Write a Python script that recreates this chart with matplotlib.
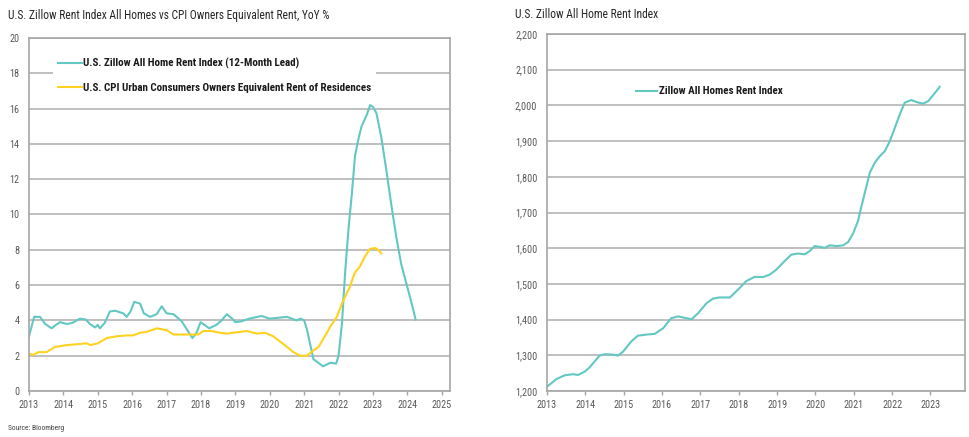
import matplotlib
matplotlib.use('Agg')
import matplotlib.pyplot as plt
from matplotlib.ticker import FuncFormatter

# YoY % (decimal years)
zillow_yoy_x = [2013.0, 2013.15, 2013.32, 2013.47, 2013.66, 2013.75, 2013.9, 2014.1, 2014.25,
                2014.48, 2014.65, 2014.77, 2014.92, 2015.0, 2015.06, 2015.2, 2015.35, 2015.5,
                2015.74, 2015.84, 2015.95, 2016.06, 2016.23, 2016.34, 2016.52, 2016.71, 2016.86,
                2017.0, 2017.2, 2017.44, 2017.75, 2017.87, 2017.99, 2018.1, 2018.24, 2018.45,
                2018.6, 2018.75, 2018.88, 2019.0, 2019.18, 2019.4, 2019.76, 2020.0, 2020.5,
                2020.78, 2020.9, 2021.0, 2021.08, 2021.27, 2021.55, 2021.76, 2021.93, 2022.0,
                2022.1, 2022.19, 2022.29, 2022.39, 2022.48, 2022.58, 2022.67, 2022.82, 2022.92,
                2023.0, 2023.1, 2023.24, 2023.39, 2023.53, 2023.68, 2023.82, 2023.97, 2024.12,
                2024.24]
zillow_yoy = [3.1, 4.2, 4.2, 3.8, 3.55, 3.7, 3.9, 3.8, 3.85,
              4.1, 4.05, 3.8, 3.6, 3.75, 3.55, 3.85, 4.5, 4.55,
              4.4, 4.2, 4.5, 5.05, 4.95, 4.4, 4.2, 4.35, 4.8,
              4.4, 4.35, 3.95, 3.0, 3.3, 3.9, 3.75, 3.55, 3.75,
              4.0, 4.35, 4.15, 3.9, 3.95, 4.1, 4.25, 4.1, 4.2,
              4.0, 4.1, 4.0, 3.5, 1.8, 1.4, 1.6, 1.55, 2.0,
              3.85, 6.7, 9.2, 11.25, 13.35, 14.3, 15.0, 15.65, 16.2,
              16.1, 15.75, 14.4, 12.5, 10.6, 8.7, 7.2, 6.1, 5.0,
              4.05]

cpi_oer_x = [2013.0, 2013.12, 2013.27, 2013.51, 2013.76, 2013.95, 2014.1, 2014.39, 2014.68,
             2014.78, 2015.0, 2015.26, 2015.55, 2015.84, 2016.03, 2016.23, 2016.42, 2016.71,
             2017.0, 2017.2, 2017.44, 2017.73, 2017.92, 2018.07, 2018.3, 2018.55, 2018.75,
             2018.94, 2019.33, 2019.62, 2019.86, 2020.1, 2020.3, 2020.5, 2020.69, 2020.88,
             2021.08, 2021.27, 2021.42, 2021.6, 2021.76, 2021.95, 2022.13, 2022.33, 2022.47,
             2022.62, 2022.76, 2022.91, 2023.07, 2023.15, 2023.24]
cpi_oer = [2.1, 2.05, 2.2, 2.2, 2.5, 2.55, 2.6, 2.65, 2.7,
           2.6, 2.7, 3.0, 3.1, 3.15, 3.15, 3.3, 3.35, 3.55,
           3.45, 3.2, 3.2, 3.2, 3.2, 3.4, 3.4, 3.3, 3.25,
           3.3, 3.4, 3.25, 3.3, 3.1, 2.8, 2.5, 2.2, 2.0,
           2.0, 2.3, 2.5, 3.1, 3.65, 4.2, 5.1, 5.9, 6.7,
           7.05, 7.6, 8.05, 8.1, 8.0, 7.8]

# Zillow All Homes Rent Index level
index_x = [2013.0, 2013.24, 2013.46, 2013.68, 2013.81, 2013.98, 2014.11, 2014.37, 2014.5,
           2014.72, 2014.85, 2014.98, 2015.2, 2015.37, 2015.59, 2015.81, 2016.03, 2016.24,
           2016.42, 2016.63, 2016.77, 2016.94, 2017.16, 2017.33, 2017.5, 2017.77, 2017.98,
           2018.2, 2018.42, 2018.63, 2018.81, 2018.98, 2019.16, 2019.37, 2019.55, 2019.72,
           2019.85, 2019.98, 2020.11, 2020.24, 2020.37, 2020.55, 2020.72, 2020.85, 2020.98,
           2021.11, 2021.16, 2021.29, 2021.42, 2021.55, 2021.68, 2021.81, 2021.94, 2022.07,
           2022.2, 2022.33, 2022.5, 2022.68, 2022.81, 2022.94, 2023.11, 2023.24]
index_val = [1212, 1233, 1244, 1247, 1245, 1254, 1266, 1299, 1303,
             1302, 1299, 1310, 1339, 1355, 1358, 1360, 1376, 1404,
             1409, 1404, 1401, 1418, 1446, 1459, 1462, 1462, 1484,
             1508, 1520, 1519, 1526, 1540, 1560, 1582, 1585, 1583,
             1592, 1606, 1604, 1601, 1608, 1606, 1608, 1617, 1641,
             1676, 1700, 1756, 1812, 1840, 1858, 1872, 1900, 1937,
             1975, 2008, 2015, 2008, 2005, 2012, 2034, 2052]

plt.rcParams['font.family'] = ['Roboto Condensed', 'Liberation Sans', 'DejaVu Sans']

teal = '#62C8C1'
yellow = '#FFD21F'
grid_c = '#B4B4B4'
tick_c = '#595959'

fig = plt.figure(figsize=(9.7, 4.37), dpi=100)
ax1 = fig.add_axes([29 / 970, 46 / 437, 421 / 970, 353 / 437])
ax2 = fig.add_axes([547 / 970, 46 / 437, 418 / 970, 357 / 437])


def style(ax):
    ax.grid(axis='y', color=grid_c, linewidth=1.2)
    ax.set_axisbelow(True)
    for s in ax.spines.values():
        s.set_color('#A6A6A6')
        s.set_linewidth(1.2)
    ax.tick_params(axis='y', length=0, pad=7, labelsize=7.3, labelcolor=tick_c)
    ax.tick_params(axis='x', length=3, pad=3.5, labelsize=7.3, labelcolor=tick_c,
                   color='#A6A6A6', width=1)


ax1.plot(zillow_yoy_x, zillow_yoy, color=teal, lw=1.5,
         label='U.S. Zillow All Home Rent Index (12-Month Lead)')
ax1.plot(cpi_oer_x, cpi_oer, color=yellow, lw=1.5,
         label='U.S. CPI Urban Consumers Owners Equivalent Rent of Residences')
ax1.set_xlim(2013, 2025.24)
ax1.set_ylim(0, 20)
ax1.set_yticks(range(0, 21, 2))
ax1.set_xticks(range(2013, 2026))
style(ax1)
leg1 = ax1.legend(loc='upper left', bbox_to_anchor=(0.045, 0.971), frameon=True,
                  facecolor='white', edgecolor='none', framealpha=1, fancybox=False,
                  handlelength=2.2, handletextpad=0.1, labelspacing=1.25,
                  prop={'weight': 'bold', 'size': 7.9})
for t in leg1.get_texts():
    t.set_color('#1a1a1a')

ax2.plot(index_x, index_val, color=teal, lw=1.5, label='Zillow All Homes Rent Index')
ax2.set_xlim(2013, 2023.9)
ax2.set_ylim(1200, 2200)
ax2.set_yticks(range(1200, 2201, 100))
ax2.set_xticks(range(2013, 2024))
ax2.yaxis.set_major_formatter(FuncFormatter(lambda v, p: f'{int(v):,}'))
style(ax2)
leg2 = ax2.legend(loc='upper left', bbox_to_anchor=(0.19, 0.881), frameon=False,
                  handlelength=1.9, handletextpad=0.15,
                  prop={'weight': 'bold', 'size': 7.9})
for t in leg2.get_texts():
    t.set_color('#1a1a1a')

fig.text(8 / 970, 1 - 15 / 437, 'U.S. Zillow Rent Index All Homes vs CPI Owners Equivalent Rent, YoY %',
         fontsize=8.3, va='center', ha='left', color='#262626')
fig.text(515 / 970, 1 - 15 / 437, 'U.S. Zillow All Home Rent Index',
         fontsize=8.3, va='center', ha='left', color='#262626')
fig.text(8 / 970, 1 - 428 / 437, 'Source: Bloomberg', fontsize=5.4, va='center', ha='left',
         color='#404040')

fig.savefig('out.png', dpi=100)
